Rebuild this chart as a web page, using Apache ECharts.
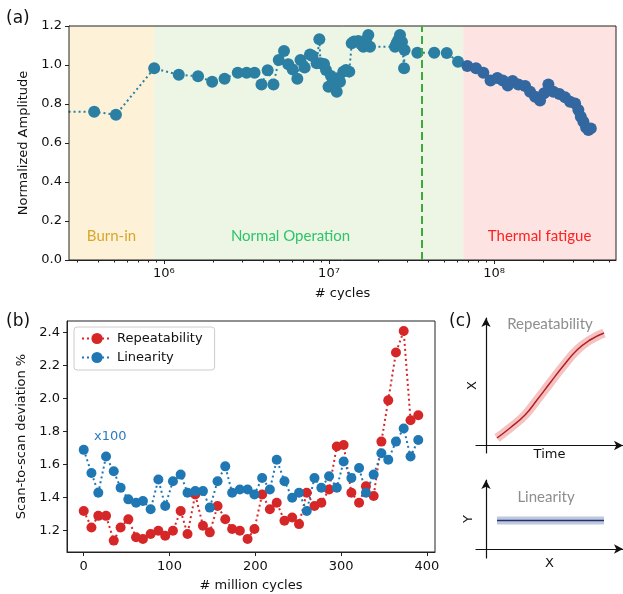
<!DOCTYPE html>
<html>
<head>
<meta charset="utf-8">
<script src="https://cdn.jsdelivr.net/npm/echarts@6/dist/echarts.min.js"></script>
<style>
  html, body { margin: 0; padding: 0; background: #fff; }
  #chart { width: 623px; height: 594px; }
</style>
</head>
<body>
<div id="chart"></div>
<script>
// ---- (a) normalized amplitude vs # cycles (log) ----
const ampCycles = [2.0e5, 3.78e5, 5.12e5, 8.73e5, 1.23e6, 1.61e6, 1.96e6, 2.33e6, 2.80e6, 3.17e6,
  3.54e6, 3.90e6, 4.25e6, 4.61e6, 4.96e6, 5.34e6, 5.67e6, 6.03e6, 6.43e6, 6.72e6,
  7.12e6, 7.67e6, 7.94e6, 8.42e6, 8.74e6, 8.88e6, 9.33e6, 9.59e6, 9.93e6, 1.028e7,
  1.065e7, 1.114e7, 1.142e7, 1.166e7, 1.221e7, 1.268e7, 1.327e7, 1.373e7, 1.418e7, 1.505e7,
  1.563e7, 1.614e7, 1.676e7, 1.731e7, 1.772e7, 2.512e7, 2.572e7, 2.63e7, 2.693e7, 2.769e7,
  2.85e7, 2.87e7, 3.429e7, 4.342e7, 5.168e7, 6.05e7, 6.89e7, 7.78e7, 8.61e7, 9.52e7,
  1.047e8, 1.129e8, 1.211e8, 1.295e8, 1.404e8, 1.542e8, 1.653e8, 1.773e8, 1.900e8, 2.009e8,
  2.134e8, 2.288e8, 2.488e8, 2.694e8, 2.888e8, 3.097e8, 3.243e8, 3.354e8, 3.477e8, 3.611e8,
  3.728e8, 3.856e8]
const ampValues = [0.76, 0.76, 0.745, 0.983, 0.95, 0.942, 0.914, 0.93, 0.96, 0.96,
  0.96, 0.90, 0.973, 0.90, 1.026, 1.072, 1.004, 0.977, 0.93, 1.026,
  0.987, 1.054, 1.046, 1.009, 1.132, 1.009, 1.005, 0.974, 0.889, 0.944,
  0.889, 0.863, 0.933, 0.914, 0.966, 0.974, 0.966, 1.111, 1.12, 1.123,
  1.108, 1.094, 1.128, 1.154, 1.094, 1.094, 1.113, 1.128, 1.154, 1.118,
  0.983, 1.077, 1.063, 1.063, 1.062, 1.017, 0.995, 0.983, 0.96, 0.92,
  0.933, 0.92, 0.895, 0.918, 0.90, 0.892, 0.863, 0.837, 0.818, 0.855,
  0.90, 0.863, 0.851, 0.834, 0.812, 0.803, 0.769, 0.735, 0.709, 0.68,
  0.667, 0.675]
const cyclesMin = 2.66e5
const cyclesMax = 5.48e8
const burnInEnd = 8.7e5
const normalEnd = 6.5e7
const dashedAt = 3.66e7
const majorCycleTicks = [1e6, 1e7, 1e8]
const minorCycleTicks = [3e5, 4e5, 5e5, 6e5, 7e5, 8e5, 9e5,
  2e6, 3e6, 4e6, 5e6, 6e6, 7e6, 8e6, 9e6,
  2e7, 3e7, 4e7, 5e7, 6e7, 7e7, 8e7, 9e7,
  2e8, 3e8, 4e8, 5e8]

// ---- (b) scan-to-scan deviation ----
const millionCycles = [0, 9, 17, 26, 35, 43, 52, 61, 69, 78, 87, 95, 104, 113, 121, 130,
  139, 147, 156, 165, 173, 182, 191, 199, 208, 217, 225, 234, 243, 251, 260,
  269, 277, 286, 295, 303, 312, 321, 329, 338, 347, 355, 364, 373, 381, 390]
const repeatability = [1.32, 1.22, 1.29, 1.29, 1.14, 1.22, 1.27, 1.16, 1.15, 1.18, 1.20, 1.17,
  1.20, 1.32, 1.18, 1.42, 1.23, 1.19, 1.35, 1.27, 1.21, 1.20, 1.15, 1.21, 1.42, 1.33,
  1.37, 1.26, 1.28, 1.24, 1.43, 1.35, 1.37, 1.45, 1.71, 1.72, 1.43, 1.37, 1.47, 1.41,
  1.74, 1.99, 2.28, 2.41, 1.87, 1.90]
const linearity = [1.69, 1.55, 1.43, 1.65, 1.56, 1.46, 1.39, 1.37, 1.38, 1.33, 1.51, 1.35,
  1.50, 1.54, 1.43, 1.44, 1.44, 1.34, 1.50, 1.59, 1.43, 1.45, 1.45, 1.42, 1.52, 1.45,
  1.63, 1.50, 1.40, 1.43, 1.32, 1.52, 1.46, 1.53, 1.46, 1.62, 1.52, 1.58, 1.43, 1.54,
  1.67, 1.63, 1.74, 1.82, 1.65, 1.75]
const devTicks = [1.2, 1.4, 1.6, 1.8, 2.0, 2.2, 2.4]
const millionTicks = [0, 100, 200, 300, 400]

// ---- (c) schematic curves ----
const reprTime = [1.1, 2.4, 3.9, 5.1, 6.4, 7.8, 9.1, 10.4, 11.8]
const reprX = [0.75, 1.75, 3.05, 4.55, 6.25, 8.05, 9.55, 10.55, 11.25]
const linX = [1.1, 11.8]
const linY = [2.85, 2.85]

const teal = '#2b7fa3'
const thermalBlue = '#3267a0'
const red = '#d62728'
const blue = '#1f77b4'
const tickFont = { color: '#111', fontSize: 13, fontFamily: 'DejaVu Sans' }
const sup = { 6: '\u2076', 7: '\u2077', 8: '\u2078' }

const pair = (xs, ys) => xs.map((x, i) => [x, ys[i]])

const chart = echarts.init(document.getElementById('chart'))

const option = {
  animation: false,
  grid: [
    { left: 69, top: 26, right: 7, bottom: 334, show: true, borderColor: '#222', borderWidth: 1, z: 5, backgroundColor: 'transparent' },
    { left: 67, top: 321, right: 188, bottom: 42, show: true, borderColor: '#222', borderWidth: 1 },
    { left: 476, top: 318, right: 0, bottom: 141 },
    { left: 476, top: 480, right: 0, bottom: 36 }
  ],
  xAxis: [
    {
      gridIndex: 0, type: 'log', min: cyclesMin, max: cyclesMax,
      name: '# cycles', nameLocation: 'middle', nameGap: 27, nameTextStyle: tickFont,
      axisLine: { onZero: false, lineStyle: { color: '#222' } },
      axisTick: { customValues: majorCycleTicks, length: 4, lineStyle: { color: '#222' } },
      axisLabel: { customValues: majorCycleTicks, margin: 7, ...tickFont,
        formatter: v => '10' + sup[Math.round(Math.log10(v))] },
      splitLine: { show: false }
    },
    {
      gridIndex: 0, type: 'log', min: cyclesMin, max: cyclesMax, position: 'bottom',
      axisLine: { show: false, onZero: false },
      axisTick: { customValues: minorCycleTicks, length: 2.5, lineStyle: { color: '#222' } },
      axisLabel: { show: false },
      splitLine: { show: false }
    },
    {
      gridIndex: 1, type: 'value', min: -19.5, max: 409.5,
      name: '# million cycles', nameLocation: 'middle', nameGap: 27, nameTextStyle: tickFont,
      axisLine: { onZero: false, lineStyle: { color: '#222' } },
      axisTick: { customValues: millionTicks, length: 4, lineStyle: { color: '#222' } },
      axisLabel: { customValues: millionTicks, margin: 8, ...tickFont },
      splitLine: { show: false }
    },
    {
      gridIndex: 2, type: 'value', min: -1, max: 13.7,
      name: 'Time', nameLocation: 'middle', nameGap: -5, nameTextStyle: tickFont,
      axisLine: { symbol: ['none', 'arrow'], symbolSize: [7, 9], lineStyle: { color: '#111', width: 1.2 } },
      axisTick: { show: false }, axisLabel: { show: false }, splitLine: { show: false }
    },
    {
      gridIndex: 3, type: 'value', min: -1, max: 13.7,
      name: 'X', nameLocation: 'middle', nameGap: -1, nameTextStyle: tickFont,
      axisLine: { symbol: ['none', 'arrow'], symbolSize: [7, 9], lineStyle: { color: '#111', width: 1.2 } },
      axisTick: { show: false }, axisLabel: { show: false }, splitLine: { show: false }
    }
  ],
  yAxis: [
    {
      gridIndex: 0, type: 'value', min: 0, max: 1.2, interval: 0.2,
      name: 'Normalized Amplitude', nameLocation: 'middle', nameGap: 38, nameTextStyle: tickFont,
      axisLine: { show: true, onZero: false, lineStyle: { color: '#222' } },
      axisTick: { show: true, length: 4, lineStyle: { color: '#222' } },
      axisLabel: { margin: 7, ...tickFont, formatter: v => v.toFixed(1) },
      splitLine: { show: false }
    },
    {
      gridIndex: 1, type: 'value', min: 1.071, max: 2.471,
      name: 'Scan-to-scan deviation %', nameLocation: 'middle', nameGap: 37, nameTextStyle: tickFont,
      axisLine: { show: true, onZero: false, lineStyle: { color: '#222' } },
      axisTick: { show: true, customValues: devTicks, length: 4, lineStyle: { color: '#222' } },
      axisLabel: { customValues: devTicks, margin: 7, ...tickFont, formatter: v => v.toFixed(1) },
      splitLine: { show: false }
    },
    {
      gridIndex: 2, type: 'value', min: -0.75, max: 12.75,
      name: 'X', nameLocation: 'middle', nameGap: -3, nameTextStyle: tickFont,
      axisLine: { show: true, symbol: ['none', 'arrow'], symbolSize: [7, 9], lineStyle: { color: '#111', width: 1.2 } },
      axisTick: { show: false }, axisLabel: { show: false }, splitLine: { show: false }
    },
    {
      gridIndex: 3, type: 'value', min: -0.9, max: 6.9,
      name: 'Y', nameLocation: 'middle', nameGap: 1, nameTextStyle: tickFont,
      axisLine: { show: true, symbol: ['none', 'arrow'], symbolSize: [7, 9], lineStyle: { color: '#111', width: 1.2 } },
      axisTick: { show: false }, axisLabel: { show: false }, splitLine: { show: false }
    }
  ],
  legend: {
    data: ['Repeatability', 'Linearity'],
    orient: 'vertical', left: 74, top: 327,
    itemWidth: 30, itemHeight: 14, itemGap: 6,
    padding: [5, 12, 6, 7],
    borderColor: '#ccc', borderWidth: 1, borderRadius: 3,
    textStyle: { ...tickFont }
  },
  series: [
    {
      name: 'Amplitude', type: 'line', xAxisIndex: 0, yAxisIndex: 0,
      data: pair(ampCycles, ampValues).map(p => ({
        value: p, itemStyle: { color: p[0] > normalEnd ? thermalBlue : teal }
      })),
      symbol: 'circle', symbolSize: 12, showSymbol: true,
      lineStyle: { color: teal, width: 2, type: [2, 3] },
      itemStyle: { color: teal },
      z: 3,
      markArea: {
        silent: true,
        data: [
          [{ name: 'Burn-in', xAxis: cyclesMin, itemStyle: { color: '#fdf2d8' },
             label: { color: '#d8a62a' } }, { xAxis: burnInEnd }],
          [{ name: 'Normal Operation', xAxis: burnInEnd, itemStyle: { color: '#edf6e4' },
             label: { color: '#2ec46a', offset: [-18, 0] } }, { xAxis: normalEnd }],
          [{ name: 'Thermal fatigue', xAxis: normalEnd, itemStyle: { color: '#fee3e3' },
             label: { color: '#ff2020' } }, { xAxis: cyclesMax }]
        ],
        label: { show: true, position: 'insideBottom', distance: 16, fontFamily: 'Lato', fontSize: 15 }
      },
      markLine: {
        silent: true, symbol: 'none', label: { show: false },
        lineStyle: { color: '#3bab3b', type: [8, 4], width: 2 },
        data: [{ xAxis: dashedAt }]
      }
    },
    {
      name: 'Repeatability', type: 'line', xAxisIndex: 2, yAxisIndex: 1,
      data: pair(millionCycles, repeatability),
      symbol: 'circle', symbolSize: 10,
      lineStyle: { color: red, width: 2, type: [2, 3] },
      itemStyle: { color: red }
    },
    {
      name: 'Linearity', type: 'line', xAxisIndex: 2, yAxisIndex: 1,
      data: pair(millionCycles, linearity),
      symbol: 'circle', symbolSize: 10,
      lineStyle: { color: blue, width: 2, type: [2, 3] },
      itemStyle: { color: blue }
    },
    {
      name: 'reprBand', type: 'line', xAxisIndex: 3, yAxisIndex: 2,
      data: pair(reprTime, reprX), smooth: true, showSymbol: false,
      lineStyle: { color: 'rgba(232,120,120,0.45)', width: 9 }
    },
    {
      name: 'reprLine', type: 'line', xAxisIndex: 3, yAxisIndex: 2,
      data: pair(reprTime, reprX), smooth: true, showSymbol: false,
      lineStyle: { color: '#b51f24', width: 1.5 }
    },
    {
      name: 'linBand', type: 'line', xAxisIndex: 4, yAxisIndex: 3,
      data: pair(linX, linY), showSymbol: false,
      lineStyle: { color: 'rgba(110,130,180,0.45)', width: 8 }
    },
    {
      name: 'linLine', type: 'line', xAxisIndex: 4, yAxisIndex: 3,
      data: pair(linX, linY), showSymbol: false,
      lineStyle: { color: '#1d3470', width: 1.5 }
    }
  ],
  graphic: [
    { type: 'text', x: 6, y: 19, style: { text: '(a)', font: '17px DejaVu Sans', fill: '#111', verticalAlign: 'middle' } },
    { type: 'text', x: 6, y: 322, style: { text: '(b)', font: '17px DejaVu Sans', fill: '#111', verticalAlign: 'middle' } },
    { type: 'text', x: 449, y: 322, style: { text: '(c)', font: '17px DejaVu Sans', fill: '#111', verticalAlign: 'middle' } },
    { type: 'text', x: 94, y: 437, style: { text: 'x100', font: '13px DejaVu Sans', fill: '#2b7bbf', verticalAlign: 'middle' } },
    { type: 'text', x: 550, y: 324, style: { text: 'Repeatability', font: '15px Lato', fill: '#8e8e8e', align: 'center', verticalAlign: 'middle' } },
    { type: 'text', x: 546, y: 497, style: { text: 'Linearity', font: '15px Lato', fill: '#8e8e8e', align: 'center', verticalAlign: 'middle' } }
  ]
}

chart.setOption(option)
</script>
</body>
</html>
